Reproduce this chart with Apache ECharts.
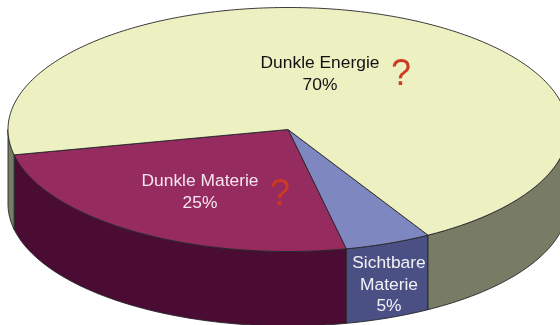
<!DOCTYPE html>
<html>
<head>
<meta charset="utf-8">
<style>html,body{margin:0;padding:0;background:#fff}#c{width:560px;height:325px}</style>
<script src="https://cdn.jsdelivr.net/npm/echarts@6/dist/echarts.min.js"></script>
</head>
<body>
<div id="c"></div>
<script>
const categories = ['Sichtbare\nMaterie', 'Dunkle Materie', 'Dunkle Energie'];
const values = [5, 25, 70];
const topColors = ['#7f87c0', '#962b60', '#edf0c1'];
const sideColors = ['#4a5084', '#4b0c33', '#797c64'];
const labelColors = ['#f2f2f6', '#f6e6ee', '#111111'];
const questionMarks = [null, '?', '?'];

// layout of the tilted disc
const CX = 288, CY = 129.5, RX = 280, RY = 122, DEPTH = 74.5, START = 60;
const labelAt = [[389, 285], [200, 192.5], [320, 74]];
const markAt = [null, [280, 195], [401, 75]];

const total = values.reduce((a, b) => a + b, 0);
const pt = (deg, dy) => {
  const r = deg * Math.PI / 180;
  return [CX + RX * Math.cos(r), CY + RY * Math.sin(r) + (dy || 0)];
};
const arc = (a, b, dy) => {
  const out = [];
  const n = Math.max(2, Math.ceil(Math.abs(b - a)));
  for (let i = 0; i <= n; i++) out.push(pt(a + (b - a) * i / n, dy));
  return out;
};
const edge = { stroke: '#26262a', lineWidth: 0.9, lineJoin: 'round' };

function renderItem(params, api) {
  const i = params.dataIndex;
  const before = values.slice(0, i).reduce((a, b) => a + b, 0);
  const a0 = START + before / total * 360;
  const a1 = a0 + api.value(0) / total * 360;
  const children = [];
  // the wall is visible only on the near half of the rim (0..180 and 360..540)
  [[0, 180], [360, 540]].forEach(([lo, hi]) => {
    const s = Math.max(a0, lo), e = Math.min(a1, hi);
    if (e > s) {
      children.push({
        type: 'polygon',
        shape: { points: arc(s, e, 0).concat(arc(e, s, DEPTH)) },
        style: Object.assign({ fill: sideColors[i] }, edge)
      });
    }
  });
  children.push({
    type: 'polygon',
    shape: { points: [[CX, CY]].concat(arc(a0, a1, 0)) },
    style: Object.assign({ fill: topColors[i] }, edge)
  });
  const pct = api.value(0) + '%';
  children.push({
    type: 'text',
    z2: 10,
    style: {
      x: labelAt[i][0], y: labelAt[i][1],
      text: categories[i] + '\n' + pct,
      fill: labelColors[i],
      font: '17.4px "Liberation Sans", Arial, sans-serif',
      lineHeight: 21.7,
      align: 'center', verticalAlign: 'middle'
    }
  });
  if (questionMarks[i]) {
    children.push({
      type: 'text',
      z2: 10,
      style: {
        x: markAt[i][0], y: markAt[i][1],
        text: questionMarks[i],
        fill: '#cc3a22',
        font: '36px "Liberation Sans", Arial, sans-serif',
        align: 'center', verticalAlign: 'middle'
      }
    });
  }
  return { type: 'group', children };
}

const chart = echarts.init(document.getElementById('c'), null, { renderer: 'canvas' });
chart.setOption({
  animation: false,
  backgroundColor: '#ffffff',
  series: [{
    type: 'custom',
    coordinateSystem: 'none',
    silent: true,
    clip: false,
    renderItem,
    data: values.map((v, i) => ({ name: categories[i], value: [v] }))
  }]
});
</script>
</body>
</html>
